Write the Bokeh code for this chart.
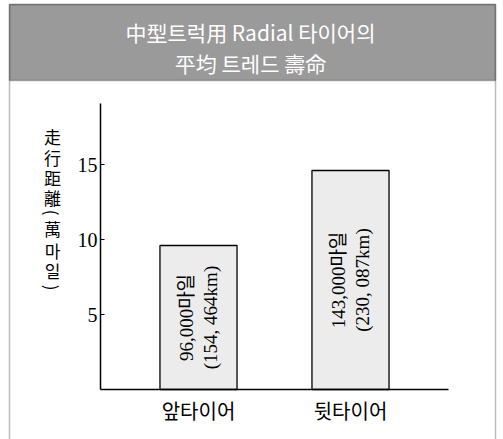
from math import pi
from bokeh.plotting import figure
from bokeh.models import Range1d, FixedTicker, Label, BoxAnnotation, ColumnDataSource
from bokeh.core.properties import value
from bokeh.embed import file_html
from bokeh.resources import INLINE

# ---- data ----
categories = ["앞타이어", "뒷타이어"]
positions = [1, 2]
mileage = [9.6, 14.6]          # 萬마일 (bar heights as drawn)
bar_labels = ["96,000마일\n(154, 464km)", "143,000마일\n(230, 087km)"]
y_ticks = [5, 10, 15]
title_lines = ["中型트럭用 Radial 타이어의", "平均 트레드 壽命"]
y_label_chars = ["走", "行", "距", "離", "(", "萬", "마", "일", ")"]

W, H = 503, 439
PX_Y = 15.0      # pixels per unit (y)
PX_X = 152.0     # pixels per unit (x)
Y0 = 389         # canvas y of value 0
X1 = 198         # canvas x of category 1
AX_LEFT = 100    # canvas x of the y axis
AX_TOP = 103     # canvas y of the top of the y axis
AX_RIGHT = 448   # canvas x of the end of the x axis
YLAB_X = 52
YLAB_Y = [136, 157, 177, 197, 212, 228, 250, 270, 287]   # layout of the stacked axis title

y_lo, y_hi = -(H - Y0) / PX_Y, Y0 / PX_Y
x_lo, x_hi = 1 - X1 / PX_X, 1 + (W - X1) / PX_X
x_axis_start = 1 - (X1 - AX_LEFT) / PX_X
x_axis_end = 1 + (AX_RIGHT - X1) / PX_X
y_axis_top = (Y0 - AX_TOP) / PX_Y

p = figure(width=W, height=H, output_backend="svg", toolbar_location=None,
           x_range=Range1d(x_lo, x_hi), y_range=Range1d(y_lo, y_hi),
           min_border=0)
p.background_fill_color = "white"
p.border_fill_color = "white"
p.outline_line_color = None
p.grid.visible = False

SERIF = "'Liberation Serif', 'Noto Sans CJK KR', serif"
SANS = "'Noto Sans CJK KR', sans-serif"

src = ColumnDataSource(dict(x=positions, top=mileage, mid=[v / 2 for v in mileage], label=bar_labels))
p.vbar(x="x", top="top", bottom=0, width=0.507, source=src,
       fill_color="#ececec", line_color="black", line_width=1.3)
p.text(x="x", y="mid", text="label", source=src, angle=pi / 2,
       text_align="center", text_baseline="middle", text_font=value(SERIF),
       text_font_size="19px", text_color="black", text_line_height=1.15)

# axes (drawn inside the frame at fixed locations)
xa = p.xaxis[0]
xa.fixed_location = 0
xa.bounds = (x_axis_start, x_axis_end)
xa.ticker = FixedTicker(ticks=positions)
xa.major_label_overrides = {pos: c for pos, c in zip(positions, categories)}
xa.major_tick_line_color = None
xa.minor_tick_line_color = None
xa.major_label_text_font = SANS
xa.major_label_text_font_size = "20px"
xa.major_label_text_color = "black"
xa.major_label_standoff = 0
xa.axis_line_color = "black"
xa.axis_line_width = 1.5

ya = p.yaxis[0]
ya.fixed_location = x_axis_start
ya.bounds = (0, y_axis_top)
ya.ticker = FixedTicker(ticks=y_ticks)
ya.minor_tick_line_color = None
ya.major_tick_in = 4
ya.major_tick_out = 0
ya.major_tick_line_color = "black"
ya.major_label_text_font = SERIF
ya.major_label_text_font_size = "20px"
ya.major_label_text_color = "black"
ya.major_label_standoff = 3
ya.axis_line_color = "black"
ya.axis_line_width = 1.5

# outer frame and title band
p.add_layout(BoxAnnotation(left=9, right=495, top=4, bottom=80,
                           left_units="canvas", right_units="canvas",
                           top_units="canvas", bottom_units="canvas",
                           fill_color="#9a9a9a", fill_alpha=1.0,
                           line_color="#222222", line_width=1.5, level="underlay"))
p.add_layout(BoxAnnotation(left=9, right=495, top=4, bottom=700,
                           left_units="canvas", right_units="canvas",
                           top_units="canvas", bottom_units="canvas",
                           fill_color=None, fill_alpha=0,
                           line_color="#222222", line_width=1.5, level="underlay"))

for txt, yy in zip(title_lines, [31, 62]):
    p.add_layout(Label(x=250, y=yy, x_units="canvas", y_units="canvas", text=txt,
                       text_align="center", text_baseline="middle",
                       text_font=SANS, text_font_size="21px", text_color="white"))

# stacked (vertical-writing) axis title; parentheses turned to vertical form
lab_x = [1 + (YLAB_X - X1) / PX_X] * len(y_label_chars)
lab_y = [(Y0 - yy) / PX_Y for yy in YLAB_Y]
lab_angle = [-pi / 2 if ch in "()" else 0 for ch in y_label_chars]
p.text(x=lab_x, y=lab_y, text=y_label_chars, angle=lab_angle,
       text_align="center", text_baseline="middle",
       text_font=value(SANS), text_font_size="17px", text_color="black")

open("out.html", "w").write(file_html(p, INLINE))
